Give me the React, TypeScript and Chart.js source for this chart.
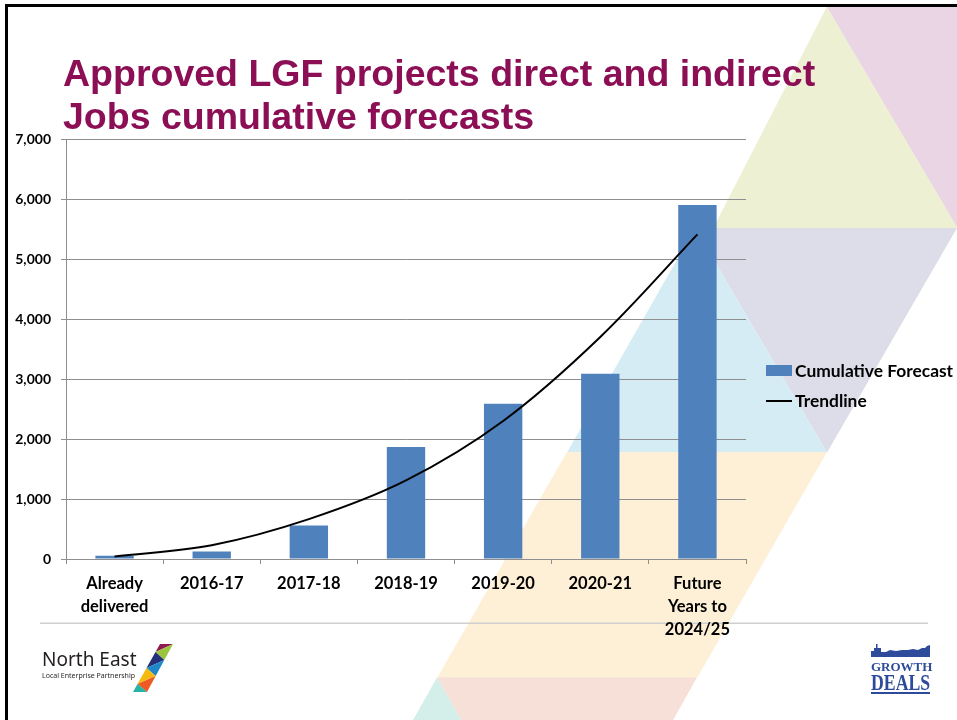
import React, { useEffect, useRef } from 'react';
import { Chart, registerables } from 'chart.js';

Chart.register(...registerables);

const categories: (string | string[])[] = [
  ['Already', 'delivered'],
  '2016-17',
  '2017-18',
  '2018-19',
  '2019-20',
  '2020-21',
  ['Future', 'Years to', '2024/25'],
];
const cumulativeForecast = [55, 127, 560, 1867, 2588, 3088, 5900];
const trendline = [43, 230, 665, 1310, 2300, 3700, 5410];
const yTickLabels = ['0', '1,000', '2,000', '3,000', '4,000', '5,000', '6,000', '7,000'];
const seriesNames = ['Cumulative Forecast', 'Trendline'];
const titleLines = ['Approved LGF projects direct and indirect', 'Jobs cumulative forecasts'];

const BAR_COLOR = '#4F81BD';
const GRID_COLOR = '#8E8E8E';
const LABEL_FONT = 'Lato, "Noto Sans", sans-serif';

type Pt = [number, number];
function poly(ctx: CanvasRenderingContext2D, pts: Pt[], color: string) {
  ctx.beginPath();
  ctx.moveTo(pts[0][0], pts[0][1]);
  for (let i = 1; i < pts.length; i++) ctx.lineTo(pts[i][0], pts[i][1]);
  ctx.closePath();
  ctx.fillStyle = color;
  ctx.fill();
}

const backgroundPlugin = {
  id: 'slideBackground',
  beforeDraw(chart: any) {
    const ctx: CanvasRenderingContext2D = chart.ctx;
    ctx.save();
    ctx.fillStyle = '#ffffff';
    ctx.fillRect(0, 0, chart.width, chart.height);
    // decorative triangles
    poly(ctx, [[826.7, 7], [957, 7], [957, 227.5]], '#E9D5E4');
    poly(ctx, [[826.7, 7], [713, 228.5], [957, 228.5], [957, 227]], '#EEF0D4');
    poly(ctx, [[695, 228], [957, 228], [827, 452.5]], '#DCDDE9');
    poly(ctx, [[695, 228], [567, 452.5], [827, 452.5]], '#D5ECF4');
    poly(ctx, [[567, 452], [827, 452], [697, 678], [437, 678]], '#FDF0D6');
    poly(ctx, [[437, 677.5], [697, 677.5], [673, 720], [461, 720]], '#F6E0D7');
    poly(ctx, [[437, 677.5], [413, 720], [461, 720]], '#D4EEEA');
    // slide frame
    ctx.fillStyle = '#000';
    ctx.fillRect(5, 4, 952, 3);
    ctx.fillRect(5, 4, 3, 716);
    // separator line
    ctx.fillStyle = '#CFCFCF';
    ctx.fillRect(40, 622.5, 888, 1.5);
    // North East logo stripes
    const L = (y: number) => 160 - (y - 644) * (27 / 48);
    const R = (y: number) => 173 - (y - 644) * (26 / 48);
    const pts: Pt[] = [
      [L(644), 644], [R(644), 644], [L(652), 652], [R(660), 660], [L(668), 668],
      [R(676), 676], [L(684), 684], [R(692), 692], [L(692), 692],
    ];
    const cols = ['#8E1B52', '#9BC53D', '#24307A', '#1E88C8', '#F6B90F', '#EE5A24', '#27B3A6'];
    for (let i = 0; i < 7; i++) poly(ctx, [pts[i], pts[i + 1], pts[i + 2]], cols[i]);
    // Growth Deals skyline + underline
    poly(ctx, [
      [871, 657], [871, 651], [874, 651], [874, 648], [876, 648], [876, 644], [877.5, 644],
      [877.5, 648], [881, 648], [881, 652], [886, 652], [890, 650], [896, 651], [902, 650],
      [908, 650], [913, 649], [918, 650], [922, 648], [925, 648], [927, 646], [930, 645], [930, 657],
    ], '#2E4B9B');
    ctx.fillStyle = '#2E4B9B';
    ctx.fillRect(871, 692, 59, 2);
    ctx.restore();
  },
};

const legendPlugin = {
  id: 'sideLegend',
  afterDraw(chart: any) {
    const ctx: CanvasRenderingContext2D = chart.ctx;
    const ds = chart.data.datasets;
    const barDs = ds.find((d: any) => d.type === 'bar');
    const lineDs = ds.find((d: any) => d.type === 'line');
    ctx.save();
    ctx.font = `bold 17.4px ${LABEL_FONT}`;
    ctx.textBaseline = 'middle';
    ctx.textAlign = 'left';
    ctx.fillStyle = barDs.backgroundColor;
    ctx.fillRect(766, 365, 26, 11);
    ctx.fillStyle = '#000';
    ctx.fillText(barDs.label, 795, 371);
    ctx.strokeStyle = lineDs.borderColor;
    ctx.lineWidth = 2;
    ctx.beginPath();
    ctx.moveTo(766, 401);
    ctx.lineTo(792, 401);
    ctx.stroke();
    ctx.fillText(lineDs.label, 795, 401);
    ctx.restore();
  },
};

export default function App() {
  const canvasRef = useRef<HTMLCanvasElement>(null);

  useEffect(() => {
    if (!canvasRef.current) return;
    const chart = new Chart(canvasRef.current, {
      type: 'bar',
      data: {
        labels: categories as any,
        datasets: [
          {
            type: 'line',
            label: seriesNames[1],
            data: trendline,
            borderColor: '#000000',
            borderWidth: 2,
            pointRadius: 0,
            tension: 0.35,
            fill: false,
            order: 0,
          } as any,
          {
            type: 'bar',
            label: seriesNames[0],
            data: cumulativeForecast,
            backgroundColor: BAR_COLOR,
            borderWidth: 0,
            categoryPercentage: 1,
            barPercentage: 0.395,
            order: 1,
          } as any,
        ],
      },
      options: {
        responsive: false,
        devicePixelRatio: 1,
        animation: false,
        layout: { padding: { top: 139, right: 211, bottom: 0, left: 0 } },
        plugins: {
          legend: { display: false },
          tooltip: { enabled: false },
          title: { display: false },
        },
        scales: {
          x: {
            type: 'category',
            offset: true,
            grid: {
              display: true,
              drawOnChartArea: false,
              drawTicks: true,
              tickLength: 5,
              color: GRID_COLOR,
              offset: true,
            },
            border: { display: true, color: GRID_COLOR, width: 1 },
            ticks: {
              color: '#000',
              font: { family: LABEL_FONT, weight: 'bold', size: 16.5, lineHeight: 1.41 },
              padding: 8,
              maxRotation: 0,
              autoSkip: false,
            },
            afterFit: (s: any) => {
              s.height = 161;
            },
          },
          y: {
            min: 0,
            max: 7000,
            ticks: {
              stepSize: 1000,
              color: '#000',
              font: { family: LABEL_FONT, weight: 'bold', size: 14 },
              padding: 10,
              callback: (_v: any, i: number) => yTickLabels[i],
            },
            grid: { color: GRID_COLOR, tickLength: 5, drawTicks: true, lineWidth: 1 },
            border: { display: true, color: GRID_COLOR, width: 1 },
            afterFit: (s: any) => {
              s.width = 66;
            },
          },
        },
      } as any,
      plugins: [backgroundPlugin, legendPlugin],
    });
    return () => chart.destroy();
  }, []);

  return (
    <div
      style={{
        position: 'absolute',
        left: 0,
        top: 0,
        width: 957,
        height: 720,
        overflow: 'hidden',
        background: '#fff',
      }}
    >
      <canvas
        ref={canvasRef}
        width={957}
        height={720}
        style={{ position: 'absolute', left: 0, top: 0, width: 957, height: 720 }}
      />
      <div
        style={{
          position: 'absolute',
          left: 63,
          top: 52,
          font: 'bold 37.5px "Liberation Sans", Arial, sans-serif',
          lineHeight: '43px',
          color: '#8C0F55',
          whiteSpace: 'nowrap',
        }}
      >
        {titleLines.map((t) => (
          <div key={t}>{t}</div>
        ))}
      </div>
      <div
        style={{
          position: 'absolute',
          left: 42,
          top: 650,
          font: '19px "Noto Sans", sans-serif',
          lineHeight: '19px',
          color: '#231F20',
          whiteSpace: 'nowrap',
        }}
      >
        North East
      </div>
      <div
        style={{
          position: 'absolute',
          left: 42,
          top: 672,
          font: '7px "Noto Sans", sans-serif',
          lineHeight: '7px',
          color: '#231F20',
          whiteSpace: 'nowrap',
        }}
      >
        Local Enterprise Partnership
      </div>
      <div
        style={{
          position: 'absolute',
          left: 871,
          top: 660,
          font: 'bold 13px "Liberation Serif", serif',
          lineHeight: '13px',
          color: '#2E4B9B',
          whiteSpace: 'nowrap',
        }}
      >
        GROWTH
      </div>
      <div
        style={{
          position: 'absolute',
          left: 871,
          top: 670,
          font: 'bold 24px "Liberation Serif", serif',
          lineHeight: '24px',
          color: '#2E4B9B',
          whiteSpace: 'nowrap',
          transform: 'scaleX(0.74)',
          transformOrigin: 'left top',
        }}
      >
        DEALS
      </div>
    </div>
  );
}
